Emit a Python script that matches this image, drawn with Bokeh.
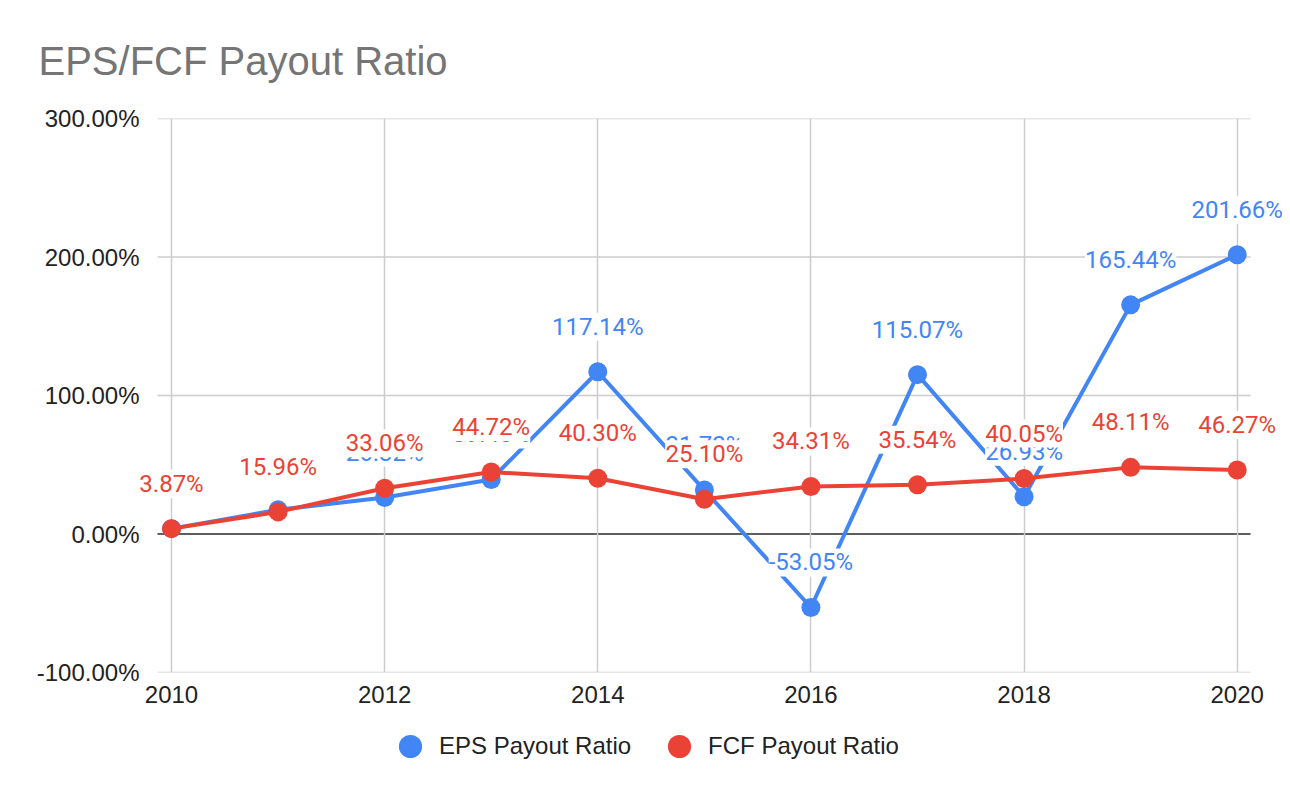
from bokeh.plotting import figure
from bokeh.layouts import column
from bokeh.models import (ColumnDataSource, Range1d, FixedTicker, PrintfTickFormatter,
                          Legend, LegendItem, Title, Label)
from bokeh.embed import file_html
from bokeh.resources import INLINE

# ---- data ----
years = [2010, 2011, 2012, 2013, 2014, 2015, 2016, 2017, 2018, 2019, 2020]
eps_payout = [3.87, 17.43, 26.32, 39.40, 117.14, 31.72, -53.05, 115.07, 26.93, 165.44, 201.66]
fcf_payout = [3.87, 15.96, 33.06, 44.72, 40.30, 25.10, 34.31, 35.54, 40.05, 48.11, 46.27]
x_ticks = [2010, 2012, 2014, 2016, 2018, 2020]
y_ticks = [-100, 0, 100, 200, 300]
series_names = ["EPS Payout Ratio", "FCF Payout Ratio"]
title_text = "EPS/FCF Payout Ratio"

BLUE = "#4285F4"
RED = "#EA4335"

# extent of the gridded plot area (axis limits) and the wider drawing window
# that leaves room for data labels overhanging the plot area
X_LO, X_HI = 2009.869, 2020.125
VIEW_LO, VIEW_HI = 2009.587, 2020.425

eps_src = ColumnDataSource(dict(x=years, y=eps_payout))
fcf_src = ColumnDataSource(dict(x=years, y=fcf_payout))

W = 1282
p = figure(width=W, height=712, output_backend="svg", toolbar_location=None,
           x_range=Range1d(VIEW_LO, VIEW_HI), y_range=Range1d(-100, 300),
           min_border_left=127, min_border_right=0, min_border_top=118, min_border_bottom=40)
p.outline_line_color = None

p.title = Title(text=title_text, align="left", offset=-89, standoff=71,
                text_font="Liberation Sans", text_font_size="40px",
                text_font_style="normal", text_color="#757575")

# axes
p.xaxis.ticker = FixedTicker(ticks=x_ticks)
p.yaxis.ticker = FixedTicker(ticks=y_ticks)
p.yaxis.formatter = PrintfTickFormatter(format="%.2f%%")
for ax in (p.xaxis, p.yaxis):
    ax.axis_line_color = None
    ax.major_tick_line_color = None
    ax.minor_tick_line_color = None
    ax.major_label_text_font = "Liberation Sans"
    ax.major_label_text_font_size = "24px"
    ax.major_label_text_color = "#222222"
p.yaxis.major_label_standoff = -18
p.xaxis.major_label_standoff = 7

# vertical grid (native), horizontal grid limited to the plot area
p.xgrid.ticker = FixedTicker(ticks=x_ticks)
p.xgrid.grid_line_color = "#cccccc"
p.xgrid.grid_line_width = 1.5
p.ygrid.visible = False
n = len(y_ticks)
p.segment(x0=[X_LO] * n, x1=[X_HI] * n, y0=y_ticks, y1=y_ticks,
          line_color="#cccccc", line_width=1.5, level="underlay")
# zero baseline
p.segment(x0=[X_LO], x1=[X_HI], y0=[0], y1=[0],
          line_color="#333333", line_width=1.5, level="underlay")

# series
p.line("x", "y", source=eps_src, line_color=BLUE, line_width=4)
p.scatter("x", "y", source=eps_src, size=19, fill_color=BLUE, line_color=None)
p.line("x", "y", source=fcf_src, line_color=RED, line_width=4)
p.scatter("x", "y", source=fcf_src, size=19, fill_color=RED, line_color=None)

# data labels
for vals, col in ((eps_payout, BLUE), (fcf_payout, RED)):
    for xv, yv in zip(years, vals):
        p.add_layout(Label(x=xv, y=yv, text=f"{yv:.2f}%", text_color=col,
                           background_fill_color="white",
                           text_font="Roboto", text_font_size="24px",
                           text_align="center", text_baseline="middle", y_offset=45))

# ---- legend strip below the chart ----
lf = figure(width=W, height=70, output_backend="svg", toolbar_location=None,
            x_range=Range1d(0, 1), y_range=Range1d(0, 1),
            x_axis_location=None, y_axis_location=None, min_border=0)
lf.outline_line_color = None
lf.grid.visible = False
leg_eps = lf.scatter("x", "y", source=eps_src, fill_color=BLUE, line_color=None)
leg_fcf = lf.scatter("x", "y", source=fcf_src, fill_color=RED, line_color=None)
legend = Legend(items=[LegendItem(label=series_names[0], renderers=[leg_eps]),
                       LegendItem(label=series_names[1], renderers=[leg_fcf])],
                orientation="horizontal", location=(254, 7),
                glyph_width=58, glyph_height=58, label_standoff=0, spacing=19,
                padding=0, margin=0, border_line_color=None, background_fill_alpha=0,
                label_text_font="Liberation Sans", label_text_font_size="24px",
                label_text_color="#222222", label_text_baseline="middle")
lf.add_layout(legend, "center")

layout = column(p, lf, spacing=0)
open("out.html", "w").write(file_html(layout, INLINE))
